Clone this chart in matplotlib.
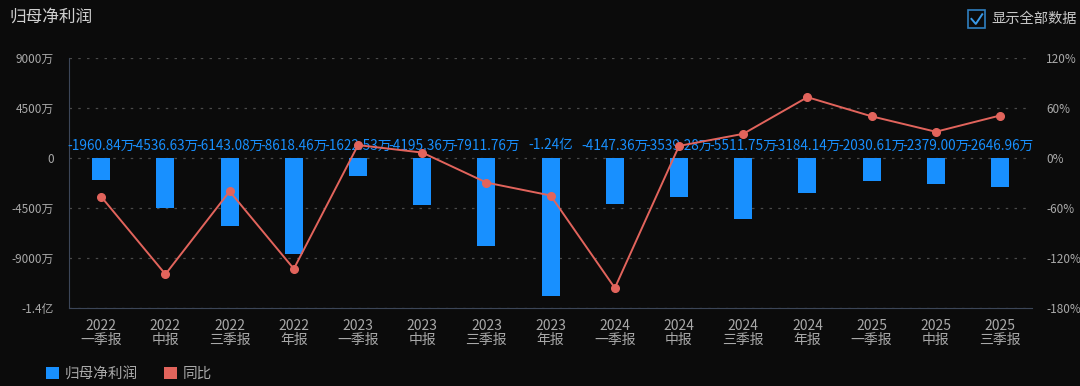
import matplotlib
matplotlib.use("Agg")
import matplotlib.pyplot as plt
from matplotlib.patches import Patch, Rectangle
from matplotlib.lines import Line2D

plt.rcParams['font.family'] = ['Noto Sans CJK SC', 'DejaVu Sans']

# 数据
periods = ['2022\n一季报', '2022\n中报', '2022\n三季报', '2022\n年报',
           '2023\n一季报', '2023\n中报', '2023\n三季报', '2023\n年报',
           '2024\n一季报', '2024\n中报', '2024\n三季报', '2024\n年报',
           '2025\n一季报', '2025\n中报', '2025\n三季报']
profit = [-1960.84, -4536.63, -6143.08, -8618.46, -1622.53, -4195.36, -7911.76, -12400.0,
          -4147.36, -3539.28, -5511.75, -3184.14, -2030.61, -2379.00, -2646.96]  # 万
yoy = [-46.5, -139.5, -40.0, -133.0, 15.5, 6.5, -29.5, -45.0,
       -156.0, 14.5, 29.0, 73.0, 50.0, 31.5, 51.0]  # %

left_ticks = [-13500, -9000, -4500, 0, 4500, 9000]
left_labels = ['-1.4亿', '-9000万', '-4500万', '0', '4500万', '9000万']
right_ticks = [-180, -120, -60, 0, 60, 120]
right_labels = ['-180%', '-120%', '-60%', '0%', '60%', '120%']

bg = '#0b0b0b'
bar_c = '#1890ff'
line_c = '#e2645c'
txt_c = '#a9a9a9'

fig = plt.figure(figsize=(10.8, 3.86), dpi=100, facecolor=bg)
ax = fig.add_axes([0.064, 0.2021, 0.8917, 0.6476], facecolor=bg)
x = list(range(len(periods)))

ax.bar(x, profit, width=0.28, color=bar_c, zorder=2)
ax.set_xlim(-0.5, len(periods) - 0.5)
ax.set_ylim(-13500, 9000)
ax.set_yticks(left_ticks)
ax.set_yticklabels(left_labels)
ax.set_xticks(x)
ax.set_xticklabels(periods, linespacing=1.0)
ax.tick_params(axis='y', length=0, colors=txt_c, labelsize=8.5, pad=11)
ax.tick_params(axis='x', length=0, colors=txt_c, labelsize=10, pad=8)
ax.grid(axis='y', color='#4a4a4a', linestyle=(0, (2, 5)), linewidth=0.9, zorder=0)
for s in ['top', 'right']:
    ax.spines[s].set_visible(False)
ax.spines['left'].set_color('#3c4658')
ax.spines['bottom'].set_color('#3c4658')

for i, v in enumerate(profit):
    if abs(v) >= 10000:
        lab = '%.2f亿' % (v / 10000)
    else:
        lab = '%.2f万' % v
    ax.annotate(lab, (i, 0), xytext=(0, 4), textcoords='offset points',
                ha='center', va='bottom', color=bar_c, fontsize=9.8, zorder=4)

ax2 = ax.twinx()
ax2.plot(x, yoy, color=line_c, linewidth=1.4, marker='o', markersize=5.5, zorder=3)
ax2.set_ylim(-180, 120)
ax2.set_yticks(right_ticks)
ax2.set_yticklabels(right_labels)
ax2.tick_params(axis='y', length=0, colors=txt_c, labelsize=8.5, pad=10)
for s in ['top', 'right', 'left', 'bottom']:
    ax2.spines[s].set_visible(False)

# 标题
fig.text(0.009, 0.955, '归母净利润', color='#d0d0d0', fontsize=12, ha='left', va='center')

# 复选框
fig.patches.append(Rectangle((0.8965, 0.928), 0.0155, 0.045, transform=fig.transFigure,
                             fill=False, edgecolor='#2f7fc0', linewidth=1.2))
fig.lines.append(Line2D([0.8995, 0.9035, 0.9095], [0.951, 0.938, 0.963],
                        transform=fig.transFigure, color='#3a9ae8', linewidth=1.4))
fig.text(0.918, 0.951, '显示全部数据', color='#c8c8c8', fontsize=10.3, ha='left', va='center')

# 图例
handles = [Patch(facecolor=bar_c, edgecolor='none'), Patch(facecolor=line_c, edgecolor='none')]
leg = fig.legend(handles, ['归母净利润', '同比'], loc='lower left', bbox_to_anchor=(0.03, -0.02),
                 ncol=2, frameon=False, handlelength=0.9, handleheight=0.9, handletextpad=0.4,
                 columnspacing=1.8, fontsize=10.5)
for t in leg.get_texts():
    t.set_color(txt_c)

fig.savefig('out.png', dpi=100, facecolor=bg)
